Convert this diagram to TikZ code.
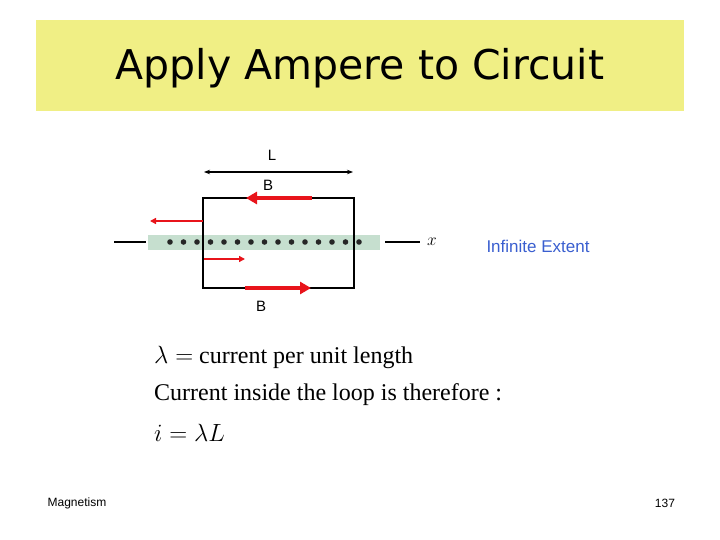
\documentclass[tikz,border=0pt]{standalone}
\usepackage{fontspec}
\setmainfont{Liberation Serif}
\newfontfamily\sansf{Liberation Sans}
\newfontfamily\titlef{DejaVu Sans}
\usetikzlibrary{arrows.meta}
\definecolor{titlebg}{HTML}{F0EF85}
\definecolor{bred}{HTML}{E8141B}
\definecolor{iblue}{HTML}{3A5FD0}
\definecolor{band}{HTML}{C6DFCF}
\tikzset{
  lbl/.style={font=\sansf\fontsize{15}{16}\selectfont, inner sep=0pt},
  thick red/.style={bred, line width=3.5pt, -{Triangle[length=11pt,width=12pt]}},
  thin red/.style={bred, line width=1.5pt, -{Triangle[length=6pt,width=6pt]}},
  eq/.style={anchor=west, inner sep=0pt, font=\fontsize{24}{28}\selectfont}
}
\begin{document}
\begin{tikzpicture}[x=1pt,y=-1pt]
\useasboundingbox (0,0) rectangle (720,540);
\fill[white] (0,0) rectangle (720,540);
\node[fill=titlebg, minimum width=648pt, minimum height=91pt, inner sep=0pt] (tb) at (360,65.5) {};
\node[font=\titlef\fontsize{41}{46}\selectfont] (title) at (360,68) {Apply Ampere to Circuit};
% band and line
\fill[band] (148,235) rectangle (380,250);
\draw[line width=2pt] (114,242) -- (146,242);
\draw[line width=2pt] (385,242) -- (420,242);
\node[font=\fontsize{17}{18}\selectfont\itshape] (x) at (432,242) {$x$};
\foreach \i in {0,...,14} \fill[black!85] (170+\i*13.5,242) circle (2.8pt);
% loop
\draw[line width=2.2pt] (203,198) rectangle (354,288);
\draw[{Stealth[length=6pt]}-{Stealth[length=6pt]}, line width=1.2pt] (204,172) -- (353,172);
\node[lbl] (L) at (272,155) {L};
\node[lbl] (B1) at (268,185) {B};
\node[lbl] (B2) at (261,306) {B};
\coordinate (a1) at (312,198); \coordinate (a2) at (246,198);
\draw[thick red] (a1) -- (a2);
\coordinate (a3) at (245,288); \coordinate (a4) at (311,288);
\draw[thick red] (a3) -- (a4);
\coordinate (a5) at (203,221); \coordinate (a6) at (150,221);
\draw[thin red] (a5) -- (a6);
\coordinate (a7) at (204,259); \coordinate (a8) at (245,259);
\draw[thin red] (a7) -- (a8);
\node[font=\sansf\fontsize{17}{18}\selectfont, text=iblue] (inf) at (538,246) {Infinite Extent};
% equations
\node[eq] (e1) at (154,357) {$\lambda = $ current per unit length};
\node[eq] (e2) at (154,395) {Current inside the loop is therefore :};
\node[eq] (e3) at (154,433) {$i = \lambda L$};
\node[font=\sansf\fontsize{12}{14}\selectfont] (m) at (77,503) {Magnetism};
\node[font=\sansf\fontsize{12}{14}\selectfont] (p) at (665,503) {137};
\end{tikzpicture}
\end{document}
